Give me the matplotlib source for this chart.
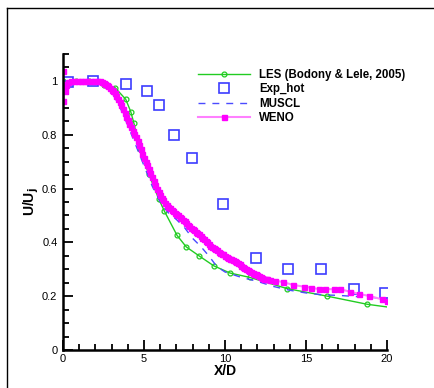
import matplotlib.pyplot as plt
from matplotlib.lines import Line2D
from matplotlib.ticker import MultipleLocator, FormatStrFormatter

plt.rcParams['font.family'] = ['Liberation Sans', 'DejaVu Sans']

# LES (Bodony & Lele, 2005)
les_x = [0.0, 0.8, 1.6, 2.5, 3.21, 3.87, 4.18, 4.38, 4.73, 5.3, 5.9, 6.25,
         7.04, 7.61, 8.42, 9.3, 10.31, 11.52, 13.85, 16.32, 18.77, 20.0]
les_y = [1.0, 1.0, 1.0, 0.985, 0.975, 0.932, 0.886, 0.842, 0.746, 0.653, 0.563, 0.517,
         0.426, 0.383, 0.349, 0.313, 0.286, 0.27, 0.228, 0.2, 0.17, 0.16]

# experiment (hot jet)
exp_x = [0.33, 1.87, 3.87, 5.16, 5.93, 6.87, 7.96, 9.9, 11.93, 13.87, 15.9, 17.96, 19.88]
exp_y = [0.995, 1.0, 0.99, 0.964, 0.91, 0.799, 0.713, 0.543, 0.341, 0.301, 0.301, 0.227, 0.212]

# MUSCL
muscl_x = [0, 1, 2, 2.5, 3, 3.5, 4, 4.5, 5, 5.5, 6, 6.5, 7, 7.5, 8, 8.5, 9, 9.5,
           10, 11, 12, 13, 14, 15, 16, 17, 18, 19, 20]
muscl_y = [1.0, 1.0, 1.0, 0.99, 0.96, 0.905, 0.835, 0.76, 0.685, 0.61, 0.55, 0.51,
           0.485, 0.455, 0.415, 0.385, 0.35, 0.31, 0.29, 0.27, 0.255, 0.236, 0.222,
           0.212, 0.205, 0.203, 0.199, 0.196, 0.19]

# WENO
weno_x = [0.0, 0.03, 0.08, 0.12, 0.2, 0.3, 0.5, 0.7, 0.9, 1.1, 1.3, 1.5, 1.7, 1.9,
          2.1, 2.3,
          2.4, 2.5, 2.6, 2.7, 2.8, 2.9, 3.0, 3.1, 3.2, 3.3, 3.4, 3.5, 3.6, 3.7,
          3.8, 3.9, 4.0, 4.1, 4.2, 4.3, 4.4, 4.5, 4.6, 4.7, 4.8, 4.9, 5.0, 5.1,
          5.2, 5.3, 5.4, 5.5, 5.6, 5.7, 5.8, 5.9, 6.0, 6.1, 6.2, 6.3, 6.4, 6.5,
          6.6, 6.7, 6.8, 6.9, 7.0, 7.1, 7.2, 7.3, 7.4, 7.5, 7.6, 7.7, 7.8, 7.9,
          8.0, 8.1, 8.2, 8.3, 8.4, 8.5, 8.6, 8.7, 8.8, 8.9, 9.0, 9.1, 9.2, 9.3,
          9.4, 9.5, 9.6, 9.7, 9.8, 9.9, 10.0, 10.1, 10.2, 10.3, 10.4, 10.5, 10.6,
          10.7, 10.8, 10.9, 11.0, 11.1, 11.2, 11.3, 11.4, 11.5, 11.6, 11.7, 11.8,
          11.9, 12.0, 12.1, 12.2, 12.3, 12.4, 12.5, 12.6,
          12.8, 13.1, 13.6, 14.2, 14.9, 15.3, 15.8, 16.2, 16.7, 17.1, 17.7, 18.3,
          18.9, 19.7, 20.0]
weno_y = [1.035, 0.925, 0.99, 0.962, 0.985, 0.995, 0.998, 1.0, 1.0, 1.0, 1.0, 1.0,
          1.0, 1.0, 1.0, 0.998,
          0.996, 0.994, 0.99, 0.985, 0.98, 0.975, 0.968, 0.962, 0.954, 0.945,
          0.934, 0.922, 0.909, 0.895, 0.88, 0.866, 0.853, 0.84, 0.828, 0.815,
          0.803, 0.79, 0.776, 0.762, 0.746, 0.73, 0.715, 0.7, 0.686, 0.672, 0.657,
          0.643, 0.628, 0.614, 0.6, 0.588, 0.577, 0.566, 0.557, 0.548, 0.54, 0.532,
          0.526, 0.52, 0.515, 0.51, 0.505, 0.5, 0.495, 0.49, 0.484, 0.478, 0.472,
          0.466, 0.46, 0.455, 0.45, 0.445, 0.44, 0.435, 0.43, 0.425, 0.418, 0.412,
          0.406, 0.4, 0.394, 0.388, 0.383, 0.378, 0.374, 0.37, 0.366, 0.362, 0.358,
          0.355, 0.351, 0.347, 0.343, 0.34, 0.337, 0.334, 0.33, 0.327, 0.322, 0.318,
          0.314, 0.31, 0.306, 0.302, 0.298, 0.295, 0.291, 0.288, 0.284, 0.281,
          0.277, 0.274, 0.271, 0.268, 0.265, 0.263, 0.262,
          0.26, 0.258, 0.252, 0.242, 0.235, 0.232, 0.226, 0.226, 0.226, 0.226,
          0.217, 0.208, 0.201, 0.188, 0.182]

fig = plt.figure(figsize=(4.34, 3.88), dpi=100)
ax = fig.add_axes([63 / 434, 1 - 350 / 388, 324 / 434, 296 / 388])

ax.plot(les_x, les_y, color='#22cc22', lw=1, marker='o', ms=3.5, mfc='none',
        mew=0.9, markevery=slice(0, len(les_x) - 1),
        label='LES (Bodony & Lele, 2005)')
ax.plot(exp_x, exp_y, ls='none', marker='s', ms=6.5, mfc='none', mec='#3c3cff',
        mew=1.2, label='Exp_hot')
ax.plot(muscl_x, muscl_y, color='#4b4bff', lw=1, dashes=(5, 5), label='MUSCL')
ax.plot(weno_x, weno_y, color='#ff80ff', lw=1.5, marker='s', ms=3.6,
        mfc='#ff00ff', mec='#ff00ff', label='WENO')

ax.set_xlim(0, 20)
ax.set_ylim(0, 1.1)
ax.xaxis.set_major_locator(MultipleLocator(5))
ax.xaxis.set_minor_locator(MultipleLocator(1))
ax.yaxis.set_major_locator(MultipleLocator(0.2))
ax.yaxis.set_minor_locator(MultipleLocator(0.05))
ax.yaxis.set_major_formatter(FormatStrFormatter('%g'))
ax.tick_params(which='both', direction='in', width=1.3, labelsize=8)
ax.tick_params(which='major', length=7)
ax.tick_params(which='minor', length=4)
ax.tick_params(axis='x', pad=3)
ax.tick_params(axis='y', pad=4)
for s in ['top', 'right']:
    ax.spines[s].set_visible(False)
for s in ['left', 'bottom']:
    ax.spines[s].set_linewidth(1.8)

ax.set_xlabel('X/D', fontsize=10, fontweight='bold', labelpad=0)
ax.set_ylabel('U/U$_\\mathbf{j}$', fontsize=10, fontweight='bold', labelpad=1)

ax.legend(loc='upper left', bbox_to_anchor=(198 / 434, 1 - 69 / 388),
          bbox_transform=fig.transFigure, frameon=False, numpoints=1,
          prop={'weight': 'bold', 'size': 8.3}, handlelength=4.5,
          handletextpad=0.8, labelspacing=0.2, borderpad=0, borderaxespad=0)

# outer frame lines (left and top)
fig.add_artist(Line2D([7 / 434, 7 / 434], [0, 1 - 8 / 388], color='black', lw=1))
fig.add_artist(Line2D([7 / 434, 1], [1 - 8 / 388, 1 - 8 / 388], color='black', lw=1))

fig.savefig('out.png', dpi=100)
